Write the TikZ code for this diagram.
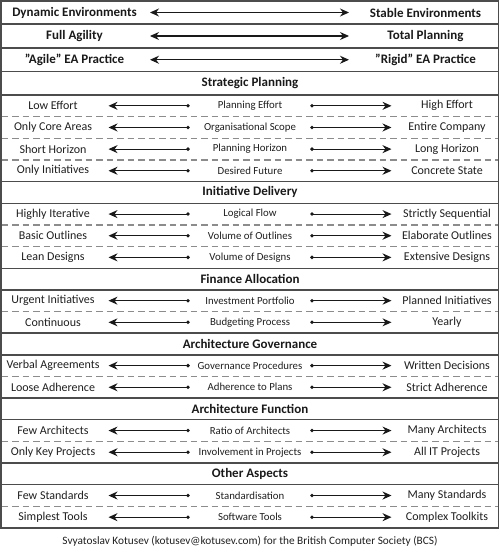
\documentclass[tikz,border=0pt]{standalone}
\usepackage{fontspec}
\setmainfont{Carlito}
\usetikzlibrary{arrows.meta}
\begin{document}
\begin{tikzpicture}[x=1pt,y=-1pt,
  frame/.style={draw=black!70,line width=1.4pt},
  sep/.style={draw=black!70,line width=1.4pt},
  dsep/.style={draw=black!45,line width=1.2pt,dash pattern=on 6.5pt off 4pt},
  side/.style={font=\fontsize{12}{14}\selectfont,inner sep=0pt,text=black!88},
  mid/.style={font=\fontsize{10.8}{13}\selectfont,inner sep=0pt,text=black!88},
  head/.style={font=\bfseries\fontsize{13}{15}\selectfont,inner sep=0pt,text=black!90},
  dotn/.style={circle,fill=black!90,inner sep=0pt,minimum size=3.8pt},
  arr/.style={draw=black!90,line width=1.1pt,-{Stealth[length=9pt,width=8pt]}},
  arrtwo/.style={draw=black!90,line width=1.1pt,{Stealth[length=9pt,width=8pt]}-{Stealth[length=9pt,width=8pt]}},
]
\useasboundingbox (0,0) rectangle (500,554);
% frame and separators
\draw[frame] (1,1) rectangle (498.5,528);
\foreach \yy in {24,48,71.5,95}{\draw[sep] (1,\yy) -- (498.5,\yy);}
\foreach \j in {4,5,8,9,11,12,14,15,17,18}{\draw[sep] (1,{95+21.65*\j}) -- (498.5,{95+21.65*\j});}
\foreach \j in {1,2,3,6,7,10,13,16,19}{\draw[dsep] (1.7,{95+21.65*\j}) -- (498,{95+21.65*\j});}
% top rows
\foreach \i/\yy/\a/\b in {1/12.5/Dynamic Environments/Stable Environments,
  2/36/Full Agility/Total Planning,
  3/59.75/{\char34 Agile\char34\ EA Practice}/{\char34 Rigid\char34\ EA Practice}}{
  \node[head] (ta\i) at (74.5,\yy) {\a};
  \node[head] (tb\i) at (425.5,\yy) {\b};
  \coordinate (pa\i) at (150,\yy);
  \coordinate (pb\i) at (349,\yy);
  \draw[arrtwo] (pa\i) -- (pb\i);
}
\node[head] (h0) at (250,83.25) {Strategic Planning};
% section headers
\foreach \k/\t in {4/Initiative Delivery,8/Finance Allocation,11/Architecture Governance,14/Architecture Function,17/Other Aspects}{
  \pgfmathsetmacro\yy{95+21.65*(\k+0.5)}
  \node[head] (h\k) at (250,\yy) {\t};
}
% rows
\foreach \k/\l/\m/\r in {0/Low Effort/Planning Effort/High Effort,
  1/Only Core Areas/Organisational Scope/Entire Company,
  2/Short Horizon/Planning Horizon/Long Horizon,
  3/Only Initiatives/Desired Future/Concrete State,
  5/Highly Iterative/Logical Flow/Strictly Sequential,
  6/Basic Outlines/Volume of Outlines/Elaborate Outlines,
  7/Lean Designs/Volume of Designs/Extensive Designs,
  9/Urgent Initiatives/Investment Portfolio/Planned Initiatives,
  10/Continuous/Budgeting Process/Yearly,
  12/Verbal Agreements/Governance Procedures/Written Decisions,
  13/Loose Adherence/Adherence to Plans/Strict Adherence,
  15/Few Architects/Ratio of Architects/Many Architects,
  16/Only Key Projects/Involvement in Projects/All IT Projects,
  18/Few Standards/Standardisation/Many Standards,
  19/Simplest Tools/Software Tools/Complex Toolkits}{
  \pgfmathsetmacro\yy{95+21.65*(\k+0.5)}
  \node[side] (l\k) at (53,\yy) {\l};
  \node[mid] (m\k) at (250,\yy) {\m};
  \node[side] (r\k) at (447,\yy) {\r};
  \node[dotn] (dl\k) at (188,\yy) {};
  \node[dotn] (dr\k) at (312,\yy) {};
  \coordinate (tl\k) at (108.5,\yy);
  \coordinate (tr\k) at (391.5,\yy);
  \draw[arr] (dl\k.center) -- (tl\k);
  \draw[arr] (dr\k.center) -- (tr\k);
}
\node[mid,font=\fontsize{11.3}{13}\selectfont] (foot) at (250,541.5) {Svyatoslav Kotusev (kotusev@kotusev.com) for the British Computer Society (BCS)};
\end{tikzpicture}
\end{document}
